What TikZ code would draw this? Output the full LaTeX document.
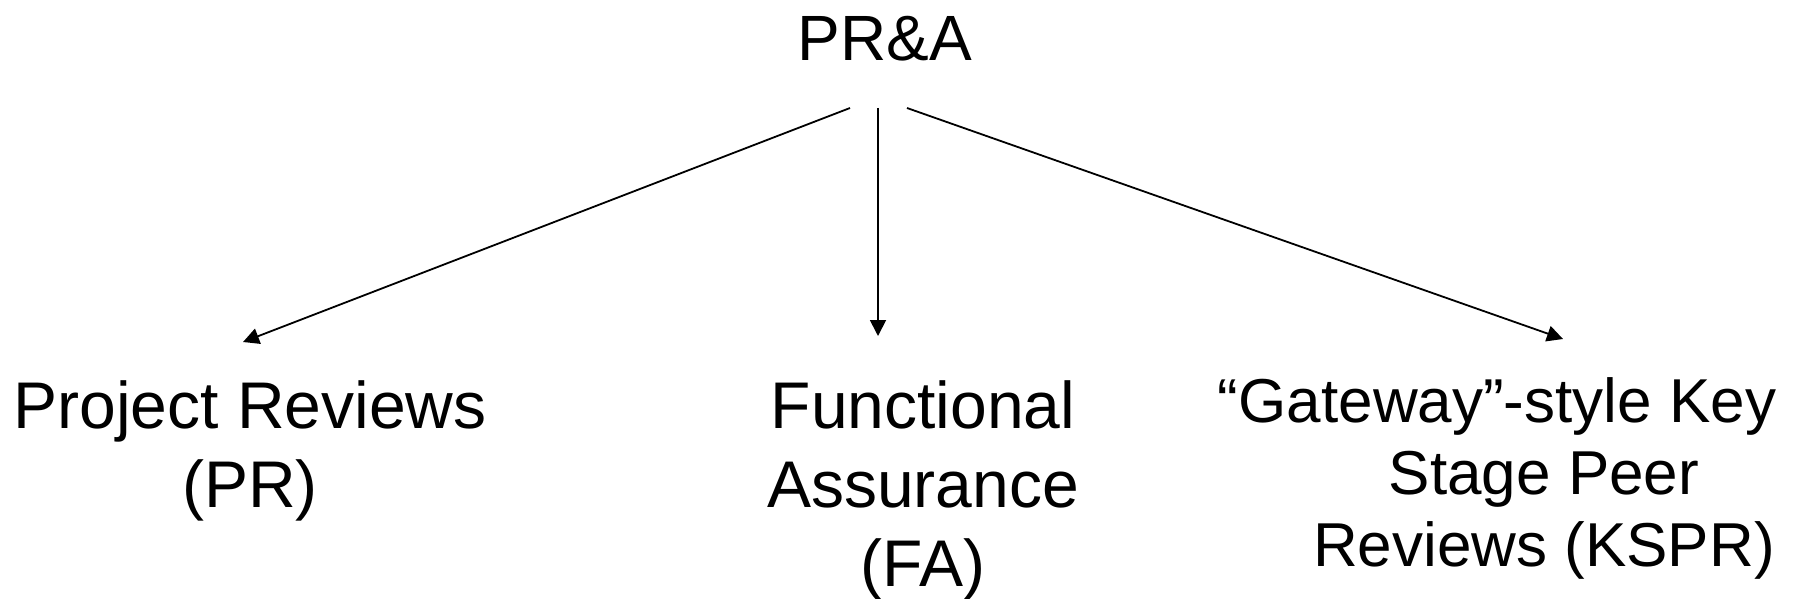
\documentclass[tikz,border=0pt]{standalone}
\usepackage{fontspec}
\setmainfont{Liberation Sans}
\usetikzlibrary{arrows.meta}

\begin{document}
\begin{tikzpicture}[x=0.5pt, y=-0.5pt,
        box text/.style={align=center, anchor=base, inner sep=0pt, font=\fontsize{33}{39.5}\selectfont},
        link/.style={-{Triangle[length=8pt, width=8pt]}, line width=0.9pt}]
    \useasboundingbox (0,0) rectangle (1793,599);
    % top and the three branches (anchor = baseline of the last line)
    \node[anchor=base, inner sep=0pt, font=\fontsize{32}{37}\selectfont] (pra) at (885,61) {PR\&A};
    \node[box text] (pr) at (250,507) {Project Reviews\\(PR)};
    \node[box text] (fa) at (923,586) {Functional\\Assurance\\(FA)};
    \node[box text, font=\fontsize{31}{36}\selectfont] (kspr) at (1544,566) {“Gateway”-style Key\hspace*{47pt}\\Stage Peer\\Reviews (KSPR)};
    % arrow ends
    \coordinate (pra-l) at (850,108);
    \coordinate (pra-m) at (878,108);
    \coordinate (pra-r) at (907,108);
    \coordinate (pr-in) at (243,342);
    \coordinate (fa-in) at (878,336);
    \coordinate (kspr-in) at (1563,339);
    \draw[link] (pra-l) -- (pr-in);
    \draw[link] (pra-m) -- (fa-in);
    \draw[link] (pra-r) -- (kspr-in);
\end{tikzpicture}
\end{document}
